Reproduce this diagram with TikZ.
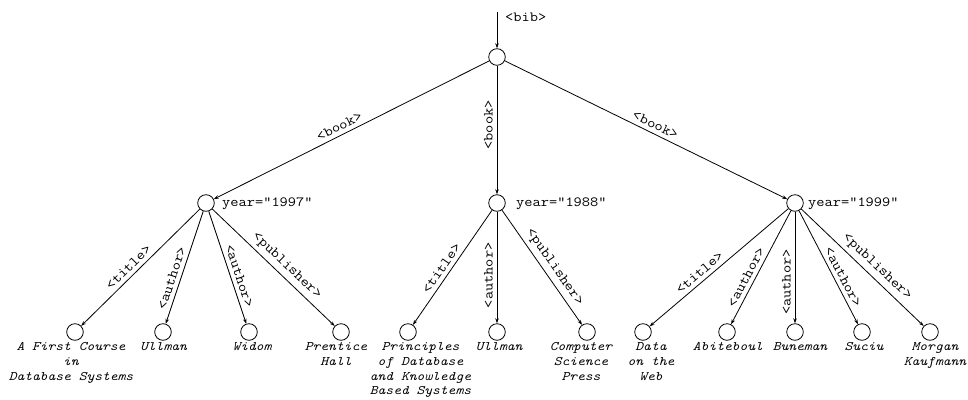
\documentclass[tikz,border=0pt]{standalone}
\usepackage{fontspec}
\setmonofont[FakeStretch=1.14]{Latin Modern Mono}
\usetikzlibrary{arrows.meta}

\tikzset{
  vertex/.style={circle, draw, line width=0.8pt, minimum size=16.6pt, inner sep=0pt},
  edge/.style={line width=0.8pt, -{Stealth[length=5pt,width=3.5pt]}},
  backedge/.style={line width=0.8pt, {Stealth[length=5pt,width=3.5pt]}-},
  tag/.style={font=\ttfamily\fontsize{14}{16}\selectfont, inner sep=1.5pt},
  attr/.style={font=\ttfamily\fontsize{14}{16}\selectfont, anchor=west, inner sep=0pt},
  leaflabel/.style={font=\ttfamily\itshape\fontsize{13}{14.7}\selectfont, align=center, anchor=north, inner sep=1pt},
}

\begin{document}
\begin{tikzpicture}[x=1pt,y=-1pt]
\useasboundingbox (0,0) rectangle (968,399);

% root and entry arrow
\coordinate (entry) at (497,12);
\node[vertex] (root) at (497,57) {};
\draw[edge] (entry) -- (root);
\node[attr] (bib) at (505,17) {<bib>};

% book level
\node[vertex] (b1) at (206,203) {};
\node[vertex] (b2) at (497,203) {};
\node[vertex] (b3) at (795,203) {};
\node[attr] (y1) at (222,204) {year=”1997”};
\node[attr] (y2) at (516,204) {year=”1988”};
\node[attr] (y3) at (808,204) {year=”1999”};

\draw[edge] (root) -- node[tag, sloped, above=2.5pt, pos=0.53] {<book>} (b1);
\draw[backedge] (b2) -- node[tag, sloped, above=2.5pt, pos=0.54] {<book>} (root);
\draw[edge] (root) -- node[tag, sloped, above=2.5pt, pos=0.52] {<book>} (b3);

% leaves of the first book
\node[vertex] (l11) at (75,332) {};
\node[vertex] (l12) at (163,332) {};
\node[vertex] (l13) at (249,332) {};
\node[vertex] (l14) at (341,332) {};
\draw[edge] (b1) -- node[tag, sloped, above=2.5pt, pos=0.55] {<title>} (l11);
\draw[edge] (b1) -- node[tag, sloped, above=2.5pt, pos=0.62] {<author>} (l12);
\draw[edge] (b1) -- node[tag, sloped, above=2.5pt, pos=0.60] {<author>} (l13);
\draw[edge] (b1) -- node[tag, sloped, above=2.5pt, pos=0.55] {<publisher>} (l14);
\node[leaflabel] (t11) at (71,341.5) {A First Course\\in\\Database Systems};
\node[leaflabel] (t12) at (163.5,341.5) {Ullman};
\node[leaflabel] (t13) at (252,341.5) {Widom};
\node[leaflabel] (t14) at (336,341.5) {Prentice\\Hall};

% leaves of the second book
\node[vertex] (l21) at (408,332) {};
\node[vertex] (l22) at (497,332) {};
\node[vertex] (l23) at (587,332) {};
\draw[edge] (b2) -- node[tag, sloped, above=2.5pt, pos=0.55] {<title>} (l21);
\draw[backedge] (l22) -- node[tag, sloped, above=2.5pt, pos=0.43] {<author>} (b2);
\draw[edge] (b2) -- node[tag, sloped, above=2.5pt, pos=0.55] {<publisher>} (l23);
\node[leaflabel] (t21) at (420.5,341.5) {Principles\\of Database\\and Knowledge\\Based Systems};
\node[leaflabel] (t22) at (499,341.5) {Ullman};
\node[leaflabel] (t23) at (581,341.5) {Computer\\Science\\Press};

% leaves of the third book
\node[vertex] (l31) at (643,332) {};
\node[vertex] (l32) at (727,332) {};
\node[vertex] (l33) at (795,332) {};
\node[vertex] (l34) at (862,332) {};
\node[vertex] (l35) at (930,332) {};
\draw[edge] (b3) -- node[tag, sloped, above=2.5pt, pos=0.60] {<title>} (l31);
\draw[edge] (b3) -- node[tag, sloped, above=2.5pt, pos=0.62] {<author>} (l32);
\draw[backedge] (l33) -- node[tag, sloped, above=2.5pt, pos=0.37] {<author>} (b3);
\draw[edge] (b3) -- node[tag, sloped, above=2.5pt, pos=0.62] {<author>} (l34);
\draw[edge] (b3) -- node[tag, sloped, above=2.5pt, pos=0.56] {<publisher>} (l35);
\node[leaflabel] (t31) at (651,341.5) {Data\\on the\\Web};
\node[leaflabel] (t32) at (728,341.5) {Abiteboul};
\node[leaflabel] (t33) at (800,341.5) {Buneman};
\node[leaflabel] (t34) at (864,341.5) {Suciu};
\node[leaflabel] (t35) at (935,341.5) {Morgan\\Kaufmann};

\end{tikzpicture}
\end{document}
